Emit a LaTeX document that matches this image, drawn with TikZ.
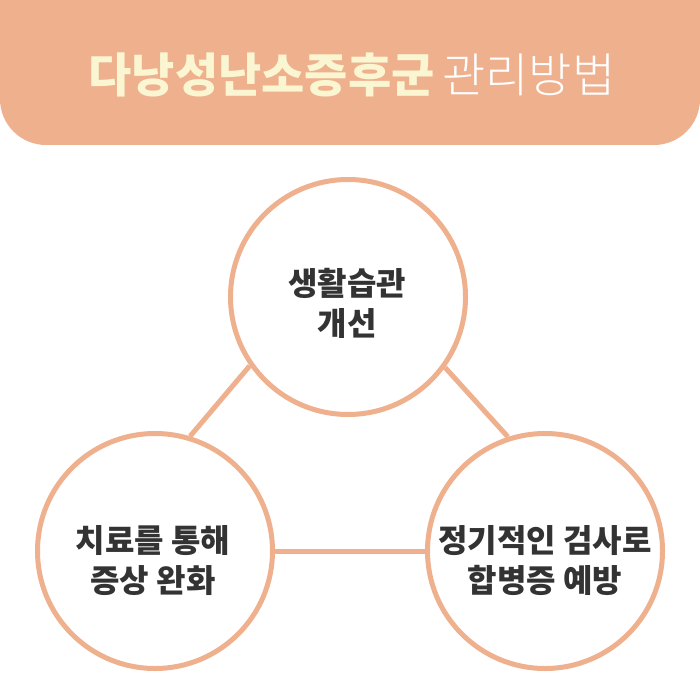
\documentclass[tikz,border=0pt]{standalone}
\usepackage{fontspec}
\IfFontExistsTF{Noto Sans CJK KR Black}
  {\newfontfamily\krheavy{Noto Sans CJK KR Black}}
  {\newfontfamily\krheavy{Noto Sans CJK KR Bold}[FakeBold=2]}
\IfFontExistsTF{Noto Sans CJK KR Light}
  {\newfontfamily\krlight{Noto Sans CJK KR Light}}
  {\newfontfamily\krlight{Noto Sans CJK KR}}
\definecolor{salmon}{RGB}{239,176,142}
\definecolor{cream}{RGB}{250,246,210}
\definecolor{darktext}{RGB}{51,51,51}
\tikzset{
  topic/.style={circle, draw=salmon, line width=5pt, fill=white, inner sep=0pt, minimum size=235pt},
  topictext/.style={text=darktext, font=\krheavy\fontsize{32}{40}\selectfont, align=center, inner sep=0pt},
  link/.style={draw=salmon, line width=5pt},
}
\begin{document}
\begin{tikzpicture}[x=1pt,y=-1pt]
\useasboundingbox (0,0) rectangle (700,700);
\clip (0,0) rectangle (700,700);
\fill[white] (0,0) rectangle (700,700);
\fill[salmon, rounded corners=46pt] (0,-80) rectangle (700,145);
\node[anchor=base, inner sep=0pt] (title) at (352,93)
  {{\krheavy\fontsize{47}{47}\selectfont\color{cream}다낭성난소증후군}\hspace{8pt}{\krlight\fontsize{47}{47}\selectfont\color{white}관리방법}};
\node[topic] (c1) at (348,297) {};
\node[topic] (c2) at (155,551) {};
\node[topic] (c3) at (545,551) {};
\draw[link] (c1.215) -- (c2.73);
\draw[link] (c1.324) -- (c3.108);
\draw[link] (c2.east) -- (c3.west);
\node[topictext] (t1) at (347,303) {생활습관\\개선};
\node[topictext] (t2) at (153,561) {치료를 통해\\증상 완화};
\node[topictext] (t3) at (545,561) {정기적인 검사로\\합병증 예방};
\end{tikzpicture}
\end{document}
